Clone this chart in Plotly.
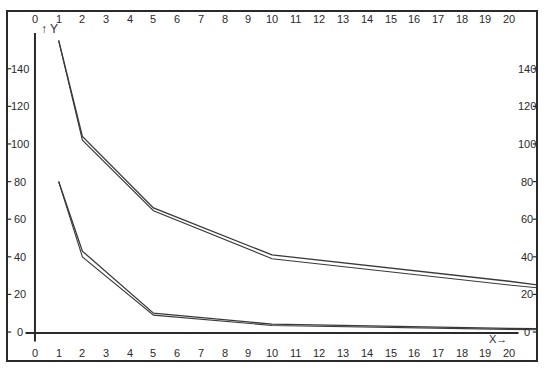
import plotly.graph_objects as go

# ---- data ----
x_ticks = list(range(0, 21))
y_ticks = [0, 20, 40, 60, 80, 100, 120, 140]

upper_x = [1, 2, 5, 10, 20, 21.2]
upper_a = [155, 104, 66, 41, 27, 25]
upper_b = [155, 102, 64.5, 39, 25, 23.5]

lower_x = [1, 2, 5, 10, 20, 21.2]
lower_a = [80, 43, 10, 4.2, 2.0, 1.8]
lower_b = [80, 40, 9, 3.5, 1.4, 1.2]

# ---- figure ----
X0, X1 = -1.18, 21.18
Y0, Y1 = -15.4, 170.7
ink = "#2a2a2a"
font = dict(family="Liberation Sans, Arial, sans-serif", size=11, color=ink)

fig = go.Figure()
for xs, ys, w in [(upper_x, upper_a, 1.3), (upper_x, upper_b, 1.1),
                  (lower_x, lower_a, 1.3), (lower_x, lower_b, 1.1)]:
    fig.add_trace(go.Scatter(x=xs, y=ys, mode="lines",
                             line=dict(color="#3a3a3a", width=w),
                             hoverinfo="skip", showlegend=False))

shapes = [
    # frame
    dict(type="rect", xref="paper", yref="paper", x0=0, y0=0, x1=1, y1=1,
         line=dict(color=ink, width=2)),
    # y axis (x=0)
    dict(type="line", xref="x", yref="y", x0=0, x1=0, y0=-5, y1=159,
         line=dict(color=ink, width=2)),
    # x axis (y=0)
    dict(type="line", xref="x", yref="y", x0=-0.4, x1=20.4, y0=-0.5, y1=-0.5,
         line=dict(color=ink, width=2)),
]
annotations = []
for v in x_ticks:
    for yy in (166.6, -11.2):
        annotations.append(dict(x=v, y=yy, xref="x", yref="y", text=str(v),
                                showarrow=False, font=font))
for v in y_ticks:
    annotations.append(dict(x=-0.62, y=v, xref="x", yref="y", text=str(v),
                            showarrow=False, font=font))
    annotations.append(dict(x=20.75, y=v, xref="x", yref="y", text=str(v),
                            showarrow=False, font=font))
    shapes.append(dict(type="line", xref="paper", yref="y", x0=0, x1=0.008,
                       y0=v, y1=v, line=dict(color=ink, width=1.2)))
    shapes.append(dict(type="line", xref="paper", yref="y", x0=0.992, x1=1,
                       y0=v, y1=v, line=dict(color=ink, width=1.2)))
annotations.append(dict(x=0.6, y=161, xref="x", yref="y", text="↑ Y",
                        showarrow=False, font=dict(family=font["family"], size=12, color=ink)))
annotations.append(dict(x=19.55, y=-3.6, xref="x", yref="y", text="X→",
                        showarrow=False, font=dict(family=font["family"], size=11, color=ink)))

fig.update_layout(
    width=546, height=373,
    margin=dict(l=7, r=9, t=11, b=12),
    paper_bgcolor="white", plot_bgcolor="white",
    xaxis=dict(range=[X0, X1], visible=False, fixedrange=True),
    yaxis=dict(range=[Y0, Y1], visible=False, fixedrange=True),
    shapes=shapes, annotations=annotations,
)
fig.write_html("out.html")
